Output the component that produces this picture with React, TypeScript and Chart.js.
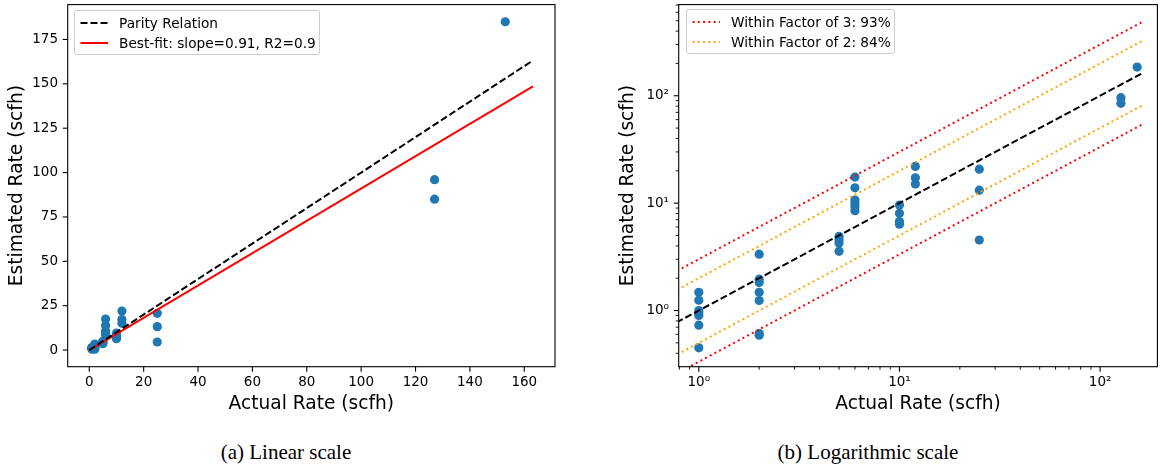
import React, { useEffect, useRef } from 'react';
import { Chart, registerables } from 'chart.js';

Chart.register(...registerables);

// ---------------- data ----------------
const ACTUAL_RATE = [
  1, 1, 1, 1, 1, 1, 1,
  2, 2, 2, 2, 2, 2, 2,
  5, 5, 5, 5,
  6, 6, 6, 6, 6, 6,
  10, 10, 10, 10,
  12, 12, 12,
  25, 25, 25,
  127, 127,
  153,
];
const ESTIMATED_RATE = [
  1.48, 1.25, 1.0, 0.95, 0.9, 0.73, 0.45,
  3.35, 1.96, 1.82, 1.48, 1.24, 0.61, 0.59,
  4.9, 4.57, 4.26, 3.56,
  17.5, 13.9, 10.7, 9.94, 9.25, 8.5,
  9.6, 8.04, 6.73, 6.37,
  22.0, 17.2, 15.1,
  20.7, 13.2, 4.54,
  96, 85,
  185,
];

const LINE_X_LINEAR = [0, 163.2];
const BEST_FIT_SLOPE = 0.91;
const LINE_X_LOG = [0.7, 162];
const FACTOR_3 = 3;
const FACTOR_2 = 2;

const LEGEND_LINEAR = ['Parity Relation', 'Best-fit: slope=0.91, R2=0.9'];
const LEGEND_LOG = ['Within Factor of 3: 93%', 'Within Factor of 2: 84%'];

const AXIS_X_TITLE = 'Actual Rate (scfh)';
const AXIS_Y_TITLE = 'Estimated Rate (scfh)';
const CAPTIONS = ['(a) Linear scale', '(b) Logarithmic scale'];

const LINEAR_X_TICKS = [0, 20, 40, 60, 80, 100, 120, 140, 160];
const LINEAR_Y_TICKS = [0, 25, 50, 75, 100, 125, 150, 175];
const LINEAR_X_RANGE = [-7.94, 171.3];
const LINEAR_Y_RANGE = [-9.38, 194.65];

const LOG_MAJOR_TICKS = [1, 10, 100];
const LOG_MAJOR_LABELS = ['10\u2070', '10\u00B9', '10\u00B2'];
const LOG_X_MINOR = [0.8, 0.9, 2, 3, 4, 5, 6, 7, 8, 9, 20, 30, 40, 50, 60, 70, 80, 90];
const LOG_Y_MINOR = [0.4, 0.5, 0.6, 0.7, 0.8, 0.9, 2, 3, 4, 5, 6, 7, 8, 9, 20, 30, 40, 50, 60, 70, 80, 90, 200, 300, 400, 500, 600, 700];
const LOG_X_RANGE = [0.794, 193];
const LOG_Y_RANGE = [0.312, 706];

// ---------------- styles ----------------
const FONT = "'DejaVu Sans', sans-serif";
const BLUE = '#1f77b4';

type Geo = {
  left: number; width: number; height: number;
  area: { l: number; r: number; t: number; b: number };
  yTitlePad: number; xTitlePad: number;
};

const GEO_LINEAR: Geo = {
  left: 0, width: 580, height: 420,
  area: { l: 67.7, r: 555, t: 3.3, b: 366.7 },
  yTitlePad: 6.4, xTitlePad: 4.4,
};
const GEO_LOG: Geo = {
  left: 600, width: 562, height: 420,
  area: { l: 78.7, r: 561, t: 2, b: 366.7 },
  yTitlePad: 17.4, xTitlePad: 4.4,
};

const framePlugin = {
  id: 'frameTicks',
  afterDatasetsDraw(chart: any) {
    const { ctx, chartArea: a } = chart;
    ctx.save();
    ctx.strokeStyle = '#000';
    ctx.lineWidth = 1.1;
    ctx.setLineDash([]);
    ctx.strokeRect(a.left, a.top, a.right - a.left, a.bottom - a.top);
    for (const id of ['x', 'y']) {
      const s = chart.scales[id];
      for (const t of s.ticks) {
        const p = s.getPixelForValue(t.value);
        const major = t.label !== '' && t.label !== undefined;
        const len = major ? 5 : 3;
        ctx.lineWidth = major ? 1.1 : 0.9;
        ctx.beginPath();
        if (id === 'x') {
          ctx.moveTo(p, a.bottom);
          ctx.lineTo(p, a.bottom + len);
        } else {
          ctx.moveTo(a.left, p);
          ctx.lineTo(a.left - len, p);
        }
        ctx.stroke();
      }
    }
    ctx.restore();
  },
};

function lineDataset(xs: number[], k: number, color: string, dash: number[]) {
  return {
    data: xs.map((x) => ({ x, y: k * x })),
    showLine: true,
    borderColor: color,
    backgroundColor: color,
    borderWidth: 2,
    borderDash: dash,
    borderCapStyle: 'butt',
    pointRadius: 0,
    pointHoverRadius: 0,
    fill: false,
    order: 0,
  };
}

function makeConfig(kind: 'linear' | 'log') {
  const geo = kind === 'linear' ? GEO_LINEAR : GEO_LOG;
  const isLog = kind === 'log';
  const points = {
    data: ACTUAL_RATE.map((x, i) => ({ x, y: ESTIMATED_RATE[i] })),
    backgroundColor: BLUE,
    borderColor: BLUE,
    borderWidth: 0,
    pointRadius: 4.6,
    pointHoverRadius: 4.6,
    showLine: false,
    order: 10,
  };
  const lines = isLog
    ? [
        lineDataset(LINE_X_LOG, FACTOR_3, 'red', [2, 3.3]),
        lineDataset(LINE_X_LOG, 1 / FACTOR_3, 'red', [2, 3.3]),
        lineDataset(LINE_X_LOG, FACTOR_2, 'orange', [2, 3.3]),
        lineDataset(LINE_X_LOG, 1 / FACTOR_2, 'orange', [2, 3.3]),
        lineDataset(LINE_X_LOG, 1, '#000', [7, 3]),
      ]
    : [
        lineDataset(LINE_X_LINEAR, 1, '#000', [7, 3]),
        lineDataset(LINE_X_LINEAR, BEST_FIT_SLOPE, 'red', []),
      ];

  const tickFont = { family: FONT, size: 13.5 };
  const titleFont = { family: FONT, size: 18.6 };

  const logLabel = (v: number) => {
    const i = LOG_MAJOR_TICKS.indexOf(v);
    return i >= 0 ? LOG_MAJOR_LABELS[i] : '';
  };

  const xTicks = isLog ? [...LOG_X_MINOR, ...LOG_MAJOR_TICKS].sort((a, b) => a - b) : LINEAR_X_TICKS;
  const yTicks = isLog ? [...LOG_Y_MINOR, ...LOG_MAJOR_TICKS].sort((a, b) => a - b) : LINEAR_Y_TICKS;
  const xRange = isLog ? LOG_X_RANGE : LINEAR_X_RANGE;
  const yRange = isLog ? LOG_Y_RANGE : LINEAR_Y_RANGE;

  return {
    type: 'scatter',
    data: { datasets: [...lines, points] },
    plugins: [framePlugin],
    options: {
      animation: false,
      responsive: false,
      devicePixelRatio: 1,
      events: [],
      layout: {
        padding: { left: 0, top: geo.area.t, right: geo.width - geo.area.r, bottom: 0 },
      },
      plugins: { legend: { display: false }, tooltip: { enabled: false } },
      scales: {
        x: {
          type: isLog ? 'logarithmic' : 'linear',
          min: xRange[0],
          max: xRange[1],
          grid: { display: false, drawTicks: false },
          border: { display: false },
          afterBuildTicks: (s: any) => { s.ticks = xTicks.map((v) => ({ value: v })); },
          afterFit: (s: any) => {
            s.height = geo.height - geo.area.b;
            s.paddingLeft = 0; s.paddingRight = 0;
          },
          ticks: {
            autoSkip: false, maxRotation: 0, minRotation: 0,
            padding: 7.8, color: '#000', font: tickFont,
            callback: (v: number) => (isLog ? logLabel(v) : String(v)),
          },
          title: {
            display: true, text: AXIS_X_TITLE, color: '#000', font: titleFont,
            padding: { top: 0, bottom: geo.xTitlePad },
          },
        },
        y: {
          type: isLog ? 'logarithmic' : 'linear',
          min: yRange[0],
          max: yRange[1],
          grid: { display: false, drawTicks: false },
          border: { display: false },
          afterBuildTicks: (s: any) => { s.ticks = yTicks.map((v) => ({ value: v })); },
          afterFit: (s: any) => {
            s.width = geo.area.l;
            s.paddingTop = 0; s.paddingBottom = 0;
          },
          ticks: {
            autoSkip: false,
            padding: 9.7, color: '#000', font: tickFont,
            callback: (v: number) => (isLog ? logLabel(v) : String(v)),
          },
          title: {
            display: true, text: AXIS_Y_TITLE, color: '#000', font: titleFont,
            padding: { top: geo.yTitlePad, bottom: 0 },
          },
        },
      },
    },
  };
}

function ChartCanvas({ kind }: { kind: 'linear' | 'log' }) {
  const ref = useRef<HTMLCanvasElement | null>(null);
  const geo = kind === 'linear' ? GEO_LINEAR : GEO_LOG;
  useEffect(() => {
    if (!ref.current) return;
    const chart = new Chart(ref.current, makeConfig(kind) as any);
    return () => chart.destroy();
  }, [kind]);
  return (
    <canvas
      ref={ref}
      width={geo.width}
      height={geo.height}
      style={{ position: 'absolute', left: geo.left, top: 0, width: geo.width, height: geo.height }}
    />
  );
}

type LegendItem = { label: string; color: string; dash: string; width: number };

function Legend({ left, top, width, height, items }: { left: number; top: number; width: number; height: number; items: LegendItem[] }) {
  return (
    <div
      style={{
        position: 'absolute', left, top, width, height, boxSizing: 'border-box',
        background: 'rgba(255,255,255,0.8)', border: '1px solid #cccccc', borderRadius: 3,
        fontFamily: FONT, fontSize: 13.7, color: '#000',
      }}
    >
      {items.map((it, i) => {
        const cy = 12 + i * 20;
        return (
          <div key={i} style={{ position: 'absolute', left: 0, top: cy - 8, height: 16, width: '100%' }}>
            <svg width={40} height={16} style={{ position: 'absolute', left: 0, top: 0 }}>
              <line x1={5.5} x2={33} y1={8} y2={8} stroke={it.color} strokeWidth={it.width} strokeDasharray={it.dash} />
            </svg>
            <span style={{ position: 'absolute', left: 44, top: 0, lineHeight: '16px', whiteSpace: 'nowrap' }}>{it.label}</span>
          </div>
        );
      })}
    </div>
  );
}

export default function App() {
  return (
    <div style={{ position: 'fixed', left: 0, top: 0, width: 1162, height: 466, background: '#fff', overflow: 'hidden' }}>
      <ChartCanvas kind="linear" />
      <ChartCanvas kind="log" />
      <Legend
        left={74} top={10} width={246} height={45}
        items={[
          { label: LEGEND_LINEAR[0], color: '#000', dash: '7 3', width: 2 },
          { label: LEGEND_LINEAR[1], color: 'red', dash: '', width: 2 },
        ]}
      />
      <Legend
        left={686} top={8.5} width={209} height={45}
        items={[
          { label: LEGEND_LOG[0], color: 'red', dash: '2 3.3', width: 2 },
          { label: LEGEND_LOG[1], color: 'orange', dash: '2 3.3', width: 2 },
        ]}
      />
      <div style={{ position: 'absolute', left: 186, width: 200, top: 439, textAlign: 'center', fontFamily: "'Liberation Serif', serif", fontSize: 21, lineHeight: '26px', color: '#000' }}>
        {CAPTIONS[0]}
      </div>
      <div style={{ position: 'absolute', left: 718, width: 300, top: 439, textAlign: 'center', fontFamily: "'Liberation Serif', serif", fontSize: 21, lineHeight: '26px', color: '#000' }}>
        {CAPTIONS[1]}
      </div>
    </div>
  );
}
